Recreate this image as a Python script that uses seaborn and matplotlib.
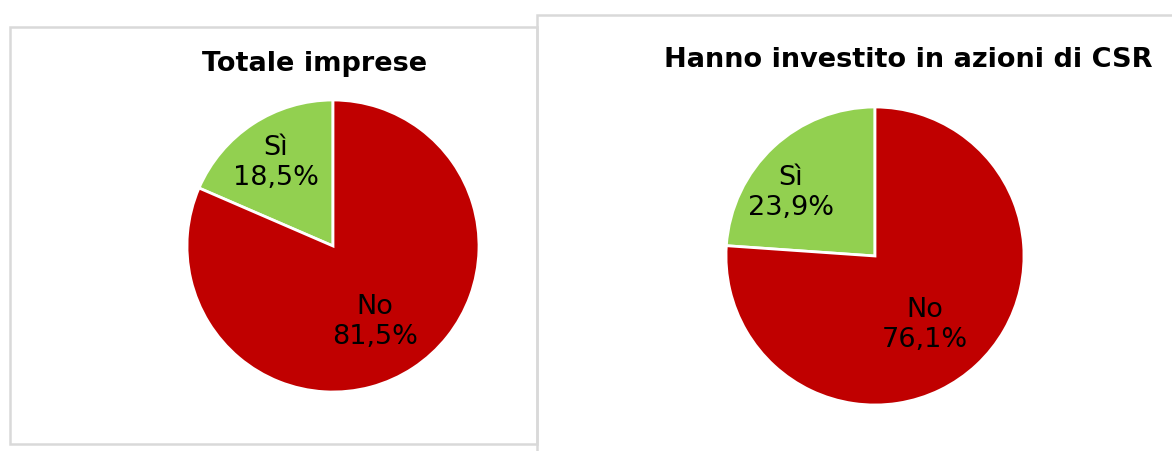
import matplotlib.pyplot as plt
import matplotlib.patches as mpatches
import seaborn as sns

# data
categories = ['Sì', 'No']
totale_imprese = [18.5, 81.5]
investito_csr = [23.9, 76.1]
titles = ['Totale imprese', 'Hanno investito in azioni di CSR']
colors = ['#92D050', '#C00000']

sns.set_theme(style='white')
plt.rcParams['font.family'] = ['DejaVu Sans']

W, H = 1172, 451
fig = plt.figure(figsize=(W / 100, H / 100), dpi=100)
fig.patch.set_facecolor('white')


def px_box(x0, y0, x1, y1):
    # pixel box (top-left origin) -> figure fraction [left, bottom, width, height]
    return [x0 / W, 1 - y1 / H, (x1 - x0) / W, (y1 - y0) / H]


# panel borders
for x0, y0, x1, y1 in [(10, 27, 537, 444), (537, 15, 1180, 460)]:
    l, b, w, h = px_box(x0, y0, x1, y1)
    fig.patches.append(mpatches.Rectangle((l, b), w, h, transform=fig.transFigure,
                                          fill=False, edgecolor='#D9D9D9', lw=1.8))


def draw_pie(cx, cy, r, values, title, title_xy, label_pos):
    pad = 1.1
    ax = fig.add_axes(px_box(cx - r * pad, cy - r * pad, cx + r * pad, cy + r * pad))
    ax.pie(values, colors=colors, startangle=90, counterclock=True,
           wedgeprops=dict(edgecolor='white', linewidth=2))
    ax.set_xlim(-pad, pad)
    ax.set_ylim(-pad, pad)
    ax.set_aspect('equal')
    ax.axis('off')
    for cat, v, (lx, ly) in zip(categories, values, label_pos):
        txt = f"{cat}\n{v:.1f}%".replace('.', ',')
        fig.text(lx / W, 1 - ly / H, txt, ha='center', va='center', fontsize=19.5,
                 color='black', linespacing=1.2)
    fig.text(title_xy[0] / W, 1 - title_xy[1] / H, title, ha='center', va='center',
             fontsize=19.5, fontweight='bold', color='black')


draw_pie(333, 246, 146, totale_imprese, titles[0], (315, 64),
         [(276, 163), (375, 322)])
draw_pie(875, 256, 149, investito_csr, titles[1], (908, 60),
         [(791, 193), (925, 325)])

fig.savefig('out.png', dpi=100, facecolor='white')
